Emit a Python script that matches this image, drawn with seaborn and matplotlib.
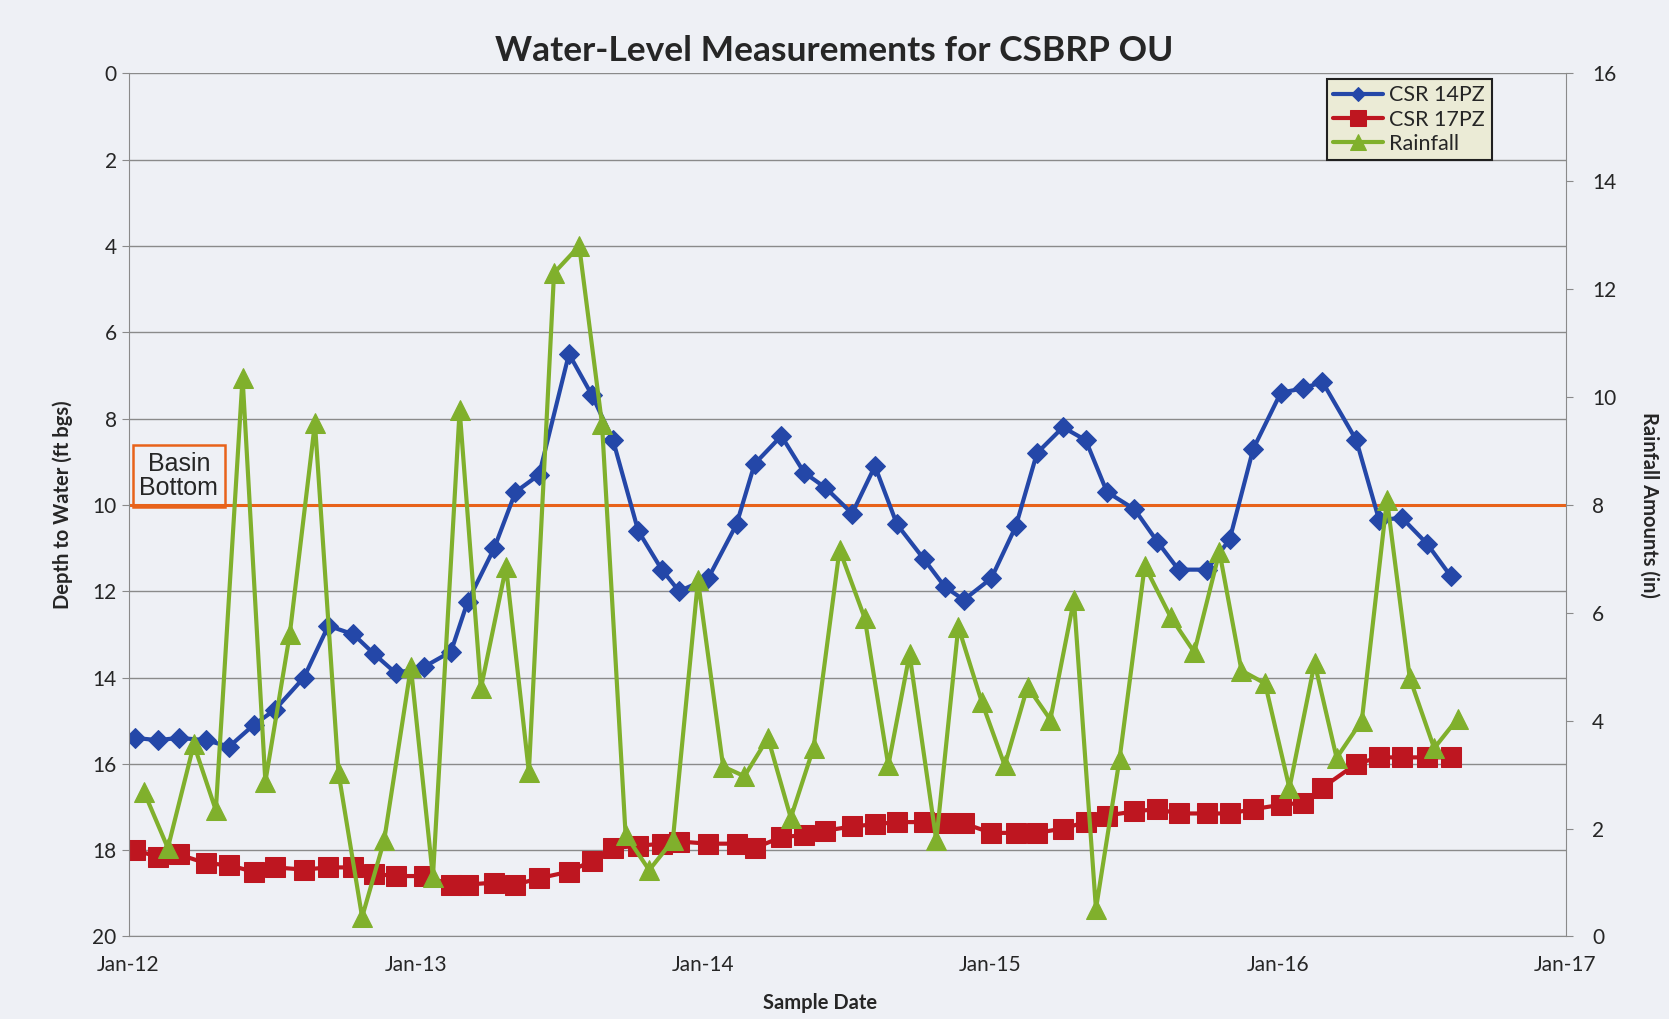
import pandas as pd
import seaborn as sns
import matplotlib.pyplot as plt
import matplotlib.dates as mdates
from matplotlib.patches import Rectangle

# sample dates for the two piezometers
level_dates = ['2012-01-09', '2012-02-07', '2012-03-05', '2012-04-08', '2012-05-08', '2012-06-08',
               '2012-07-05', '2012-08-11', '2012-09-11', '2012-10-13', '2012-11-08', '2012-12-06',
               '2013-01-11', '2013-02-14', '2013-03-07', '2013-04-10', '2013-05-07', '2013-06-06',
               '2013-07-14', '2013-08-12', '2013-09-08', '2013-10-10', '2013-11-09', '2013-12-01',
               '2014-01-07', '2014-02-12', '2014-03-07', '2014-04-10', '2014-05-09', '2014-06-05',
               '2014-07-09', '2014-08-07', '2014-09-04', '2014-10-08', '2014-11-04', '2014-11-28',
               '2015-01-02', '2015-02-02', '2015-03-01', '2015-04-03', '2015-05-02', '2015-05-29',
               '2015-07-03', '2015-08-01', '2015-08-28', '2015-10-03', '2015-11-01', '2015-12-01',
               '2016-01-05', '2016-02-02', '2016-02-27', '2016-04-10', '2016-05-09', '2016-06-07',
               '2016-07-09', '2016-08-08']
csr14 = [15.4, 15.45, 15.4, 15.45, 15.6, 15.1, 14.75, 14.0, 12.8, 13.0, 13.45, 13.9,
         13.75, 13.4, 12.25, 11.0, 9.7, 9.3, 6.5, 7.45, 8.5, 10.6, 11.5, 12.0,
         11.7, 10.45, 9.05, 8.4, 9.25, 9.6, 10.2, 9.1, 10.45, 11.25, 11.9, 12.2,
         11.7, 10.5, 8.8, 8.2, 8.5, 9.7, 10.1, 10.85, 11.5, 11.5, 10.8, 8.7,
         7.4, 7.3, 7.15, 8.5, 10.35, 10.3, 10.9, 11.65]
csr17 = [18.0, 18.15, 18.1, 18.3, 18.35, 18.5, 18.4, 18.45, 18.4, 18.4, 18.55, 18.6,
         18.6, 18.8, 18.8, 18.75, 18.8, 18.65, 18.5, 18.25, 17.95, 17.9, 17.85, 17.8,
         17.85, 17.85, 17.95, 17.7, 17.65, 17.55, 17.45, 17.4, 17.35, 17.35, 17.38, 17.38,
         17.6, 17.6, 17.6, 17.5, 17.35, 17.2, 17.1, 17.05, 17.15, 17.15, 17.15, 17.05,
         16.95, 16.9, 16.55, 16.0, 15.85, 15.85, 15.85, 15.85]

rain_dates = ['2012-01-21', '2012-02-20', '2012-03-24', '2012-04-21', '2012-05-25', '2012-06-23',
              '2012-07-24', '2012-08-25', '2012-09-24', '2012-10-24', '2012-11-21', '2012-12-25',
              '2013-01-22', '2013-02-25', '2013-03-24', '2013-04-25', '2013-05-24', '2013-06-25',
              '2013-07-27', '2013-08-25', '2013-09-24', '2013-10-24', '2013-11-23', '2013-12-25',
              '2014-01-26', '2014-02-22', '2014-03-24', '2014-04-22', '2014-05-21', '2014-06-23',
              '2014-07-25', '2014-08-24', '2014-09-20', '2014-10-24', '2014-11-21', '2014-12-21',
              '2015-01-19', '2015-02-17', '2015-03-18', '2015-04-17', '2015-05-15', '2015-06-14',
              '2015-07-16', '2015-08-18', '2015-09-17', '2015-10-19', '2015-11-16', '2015-12-16',
              '2016-01-16', '2016-02-17', '2016-03-16', '2016-04-17', '2016-05-19', '2016-06-17',
              '2016-07-18', '2016-08-17']
rainfall = [2.67, 1.64, 3.56, 2.34, 10.36, 2.87, 5.6, 9.52, 3.03, 0.36, 1.78, 4.99,
            1.1, 9.76, 4.6, 6.85, 3.05, 12.3, 12.8, 9.5, 1.88, 1.23, 1.78, 6.6,
            3.15, 2.97, 3.68, 2.2, 3.5, 7.17, 5.9, 3.17, 5.23, 1.78, 5.74, 4.34,
            3.17, 4.63, 4.02, 6.24, 0.51, 3.29, 6.87, 5.92, 5.27, 7.13, 4.93, 4.69,
            2.75, 5.07, 3.31, 4.0, 8.1, 4.79, 3.49, 4.04]

basin_bottom = 10

levels = pd.DataFrame({'Date': pd.to_datetime(level_dates), 'CSR 14PZ': csr14, 'CSR 17PZ': csr17})
rain = pd.DataFrame({'Date': pd.to_datetime(rain_dates), 'Rainfall': rainfall})

sns.set_style('white')
plt.rcParams['font.family'] = ['Lato', 'DejaVu Sans']
bg = '#eef0f5'

fig = plt.figure(figsize=(16.69, 10.19), dpi=100, facecolor=bg)
ax = fig.add_axes([0.077, 0.081, 0.861, 0.847])
ax.set_facecolor(bg)

sns.lineplot(data=levels, x='Date', y='CSR 14PZ', ax=ax, color='#2447a8', marker='D',
             markersize=10, linewidth=3, markeredgecolor='#2447a8', label='CSR 14PZ', legend=False)
sns.lineplot(data=levels, x='Date', y='CSR 17PZ', ax=ax, color='#be1620', marker='s',
             markersize=15, linewidth=3, markeredgecolor='#be1620', label='CSR 17PZ', legend=False)
ax.axhline(basin_bottom, color='#e8621a', linewidth=2.2, zorder=1)

ax.set_ylim(20, 0)
ax.set_yticks(range(0, 21, 2))
ax.set_xlim(pd.Timestamp('2012-01-01'), pd.Timestamp('2017-01-01'))
ax.xaxis.set_major_locator(mdates.YearLocator())
ax.xaxis.set_major_formatter(mdates.DateFormatter('%b-%y'))
ax.grid(axis='y', color='#8a8a8a', linewidth=1)
for s in ['top', 'right']:
    ax.spines[s].set_visible(False)
for s in ['left', 'bottom']:
    ax.spines[s].set_color('#8a8a8a')
ax.tick_params(axis='both', labelsize=15, length=5, color='#8a8a8a')
ax.tick_params(axis='x', pad=8)
ax.set_xlabel('Sample Date', fontsize=14.5, fontweight='bold', labelpad=14)
ax.xaxis.set_label_coords(0.481, -0.065)
ax.set_ylabel('Depth to Water (ft bgs)', fontsize=14.5, fontweight='bold', labelpad=14)

ax2 = ax.twinx()
sns.lineplot(data=rain, x='Date', y='Rainfall', ax=ax2, color='#80b02c', marker='^',
             markersize=15, linewidth=3, markeredgecolor='#80b02c', label='Rainfall', legend=False)
ax2.set_ylim(0, 16)
ax2.set_yticks(range(0, 17, 2))
for s in ['top', 'left', 'bottom']:
    ax2.spines[s].set_visible(False)
ax2.spines['right'].set_color('#8a8a8a')
ax2.tick_params(axis='y', labelsize=15, length=5, color='#8a8a8a', pad=14)
ax2.set_ylabel('Rainfall Amounts (in)', fontsize=14.5, fontweight='bold', rotation=270, labelpad=31)

# basin bottom label box
ax.add_patch(Rectangle((0.003, 0.498), 0.064, 0.071, transform=ax.transAxes, fill=False,
                       edgecolor='#e8621a', linewidth=1.8, zorder=3))
ax.text(0.035, 0.534, 'Basin\nBottom', transform=ax.transAxes, ha='center', va='center',
        fontsize=18, family='Liberation Sans', linespacing=1.0, zorder=4)

h1, l1 = ax.get_legend_handles_labels()
h2, l2 = ax2.get_legend_handles_labels()
leg = ax2.legend(h1 + h2, l1 + l2, loc='upper right', bbox_to_anchor=(0.956, 1.006), fontsize=15.5,
                 frameon=True, fancybox=False, facecolor='#ebebd6', edgecolor='#202020',
                 markerscale=0.75, handlelength=2.3, handletextpad=0.3, borderpad=0.3,
                 labelspacing=0.2)
leg.get_frame().set_linewidth(1.5)
leg.get_frame().set_alpha(1)

fig.suptitle('Water-Level Measurements for CSBRP OU', fontsize=25.5, fontweight='bold', y=0.966)

fig.savefig('out.png', dpi=100, facecolor=bg)
